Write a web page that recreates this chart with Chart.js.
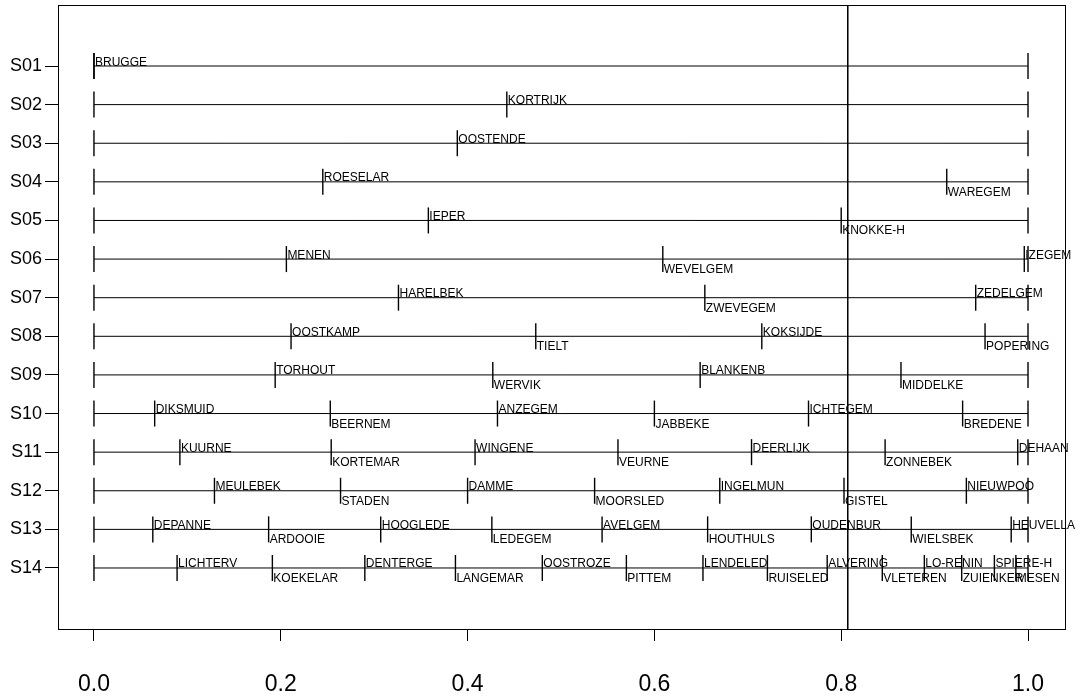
<!DOCTYPE html>
<html>
<head>
<meta charset="utf-8">
<script src="https://cdn.jsdelivr.net/npm/chart.js@4"></script>
<style>
  html, body { margin: 0; background: #fff; }
  canvas { display: block; }
</style>
</head>
<body>
<canvas id="chart" width="1080" height="698"></canvas>
<script>
'use strict';

// rows of the partition plot, top to bottom
const rowNames = ['S01', 'S02', 'S03', 'S04', 'S05', 'S06', 'S07', 'S08', 'S09', 'S10', 'S11', 'S12', 'S13', 'S14'];

// where each row gets a new split, and the name printed there
const splitPos = [
  [0],
  [0.442],
  [0.389],
  [0.245, 0.913],
  [0.358, 0.800],
  [0.206, 0.609, 0.996],
  [0.326, 0.654, 0.944],
  [0.211, 0.473, 0.715, 0.954],
  [0.194, 0.427, 0.649, 0.864],
  [0.065, 0.253, 0.432, 0.600, 0.765, 0.930],
  [0.092, 0.254, 0.408, 0.561, 0.704, 0.847, 0.989],
  [0.129, 0.264, 0.400, 0.536, 0.670, 0.803, 0.934],
  [0.063, 0.187, 0.307, 0.426, 0.544, 0.657, 0.768, 0.875, 0.982],
  [0.089, 0.191, 0.290, 0.387, 0.480, 0.570, 0.652, 0.721, 0.785, 0.844, 0.889, 0.929, 0.964, 0.987],
];
const splitNames = [
  ['BRUGGE'],
  ['KORTRIJK'],
  ['OOSTENDE'],
  ['ROESELAR', 'WAREGEM'],
  ['IEPER', 'KNOKKE-H'],
  ['MENEN', 'WEVELGEM', 'IZEGEM'],
  ['HARELBEK', 'ZWEVEGEM', 'ZEDELGEM'],
  ['OOSTKAMP', 'TIELT', 'KOKSIJDE', 'POPERING'],
  ['TORHOUT', 'WERVIK', 'BLANKENB', 'MIDDELKE'],
  ['DIKSMUID', 'BEERNEM', 'ANZEGEM', 'JABBEKE', 'ICHTEGEM', 'BREDENE'],
  ['KUURNE', 'KORTEMAR', 'WINGENE', 'VEURNE', 'DEERLIJK', 'ZONNEBEK', 'DEHAAN'],
  ['MEULEBEK', 'STADEN', 'DAMME', 'MOORSLED', 'INGELMUN', 'GISTEL', 'NIEUWPOO'],
  ['DEPANNE', 'ARDOOIE', 'HOOGLEDE', 'LEDEGEM', 'AVELGEM', 'HOUTHULS', 'OUDENBUR', 'WIELSBEK', 'HEUVELLA'],
  ['LICHTERV', 'KOEKELAR', 'DENTERGE', 'LANGEMAR', 'OOSTROZE', 'PITTEM', 'LENDELED', 'RUISELED', 'ALVERING', 'VLETEREN', 'LO-RENIN', 'ZUIENKER', 'SPIERE-H', 'MESEN'],
];

const rowStart = 0;
const rowEnd = 1;
const cutValue = 0.807;
const xTicks = [0, 0.2, 0.4, 0.6, 0.8, 1.0];

const FONT = '"Liberation Sans", Arial, Helvetica, sans-serif';
Chart.defaults.font.family = FONT;
Chart.defaults.color = '#000';

const Y_MIN = -0.58, Y_MAX = 15.58;

const rowLines = rowNames.map((_, r) => ({
  type: 'line',
  data: [{ x: rowStart, y: r + 1 }, { x: rowEnd, y: r + 1 }],
  borderColor: '#000',
  borderWidth: 1,
  pointRadius: 0,
  pointHoverRadius: 0,
}));

const tickMarks = {
  type: 'scatter',
  data: rowNames.flatMap((_, r) => [rowStart, ...splitPos[r], rowEnd].map((v) => ({ x: v, y: r + 1 }))),
  pointStyle: 'line',
  rotation: 90,
  pointRadius: 13,
  pointHoverRadius: 13,
  borderColor: '#000',
  borderWidth: 1.4,
};

const cutLine = {
  type: 'line',
  data: [{ x: cutValue, y: Y_MIN }, { x: cutValue, y: Y_MAX }],
  borderColor: '#000',
  borderWidth: 1,
  pointRadius: 0,
  pointHoverRadius: 0,
};

// names next to each split: alternately above and below the row line
const splitLabels = {
  id: 'splitLabels',
  afterDatasetsDraw(chart) {
    const { ctx, scales: { x, y } } = chart;
    ctx.save();
    ctx.font = '12px ' + FONT;
    ctx.fillStyle = '#000';
    ctx.textAlign = 'left';
    ctx.textBaseline = 'alphabetic';
    splitNames.forEach((names, r) => {
      const py = y.getPixelForValue(r + 1);
      names.forEach((name, i) => {
        const px = x.getPixelForValue(splitPos[r][i]) + 1;
        ctx.fillText(name, px, i % 2 === 0 ? py - 0.5 : py + 14);
      });
    });
    ctx.restore();
  },
};

const frame = {
  id: 'frame',
  afterDraw(chart) {
    const { ctx, chartArea: a } = chart;
    ctx.save();
    ctx.strokeStyle = '#000';
    ctx.lineWidth = 1;
    ctx.strokeRect(Math.round(a.left) + 0.5, Math.round(a.top) + 0.5, Math.round(a.width), Math.round(a.height));
    ctx.restore();
  },
};

new Chart(document.getElementById('chart'), {
  type: 'scatter',
  data: { datasets: [...rowLines, tickMarks, cutLine] },
  options: {
    responsive: false,
    animation: false,
    layout: { autoPadding: false, padding: { top: 5, right: 15, left: 0, bottom: 0 } },
    plugins: { legend: { display: false }, tooltip: { enabled: false } },
    scales: {
      x: {
        type: 'linear',
        min: -0.0385,
        max: 1.0396,
        afterBuildTicks: (s) => { s.ticks = xTicks.map((v) => ({ value: v })); },
        afterFit: (s) => { s.height = 69; },
        ticks: { callback: (v) => Number(v).toFixed(1), font: { size: 23 }, padding: 30, maxRotation: 0, autoSkip: false },
        grid: { drawOnChartArea: false, drawTicks: true, tickLength: 12, color: '#000', lineWidth: 1 },
        border: { display: false },
      },
      y: {
        type: 'linear',
        reverse: true,
        min: Y_MIN,
        max: Y_MAX,
        afterBuildTicks: (s) => { s.ticks = rowNames.map((_, i) => ({ value: i + 1 })); },
        // the S labels sit well inside the axis, so no extra room at the ends
        afterFit: (s) => { s.width = 58; s.paddingTop = 0; s.paddingBottom = 0; },
        ticks: { callback: (v) => rowNames[v - 1], font: { size: 18 }, padding: 3, autoSkip: false },
        grid: { drawOnChartArea: false, drawTicks: true, tickLength: 13, color: '#000', lineWidth: 1 },
        border: { display: false },
      },
    },
  },
  plugins: [splitLabels, frame],
});
</script>
</body>
</html>
